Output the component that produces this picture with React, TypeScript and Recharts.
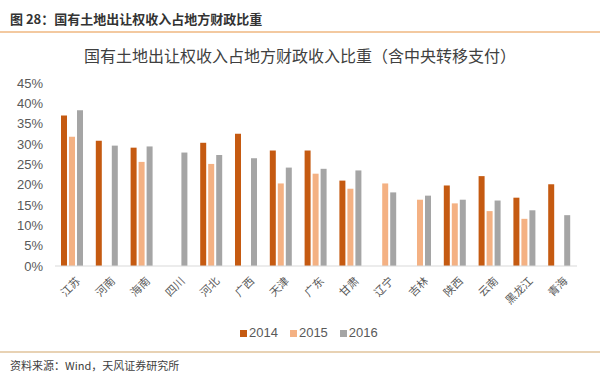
import React from "react";
import { Bar, BarChart, XAxis, YAxis } from "recharts";

// provinces, in chart order
const PROVINCES = [
  "江苏", "河南", "海南", "四川", "河北", "广西", "天津", "广东",
  "甘肃", "辽宁", "吉林", "陕西", "云南", "黑龙江", "青海",
];

// share of land-transfer income in local fiscal revenue, %
const Y2014 = [37.0, 30.8, 29.1, null, 30.3, 32.5, 28.4, 28.4, 21.0, null, null, 19.8, 22.1, 16.8, 20.1];
const Y2015 = [31.8, null, 25.6, null, 25.1, null, 20.3, 22.7, 19.0, 20.3, 16.3, 15.4, 13.5, 11.6, null];
const Y2016 = [38.3, 29.6, 29.4, 27.9, 27.3, 26.5, 24.2, 23.9, 23.5, 18.1, 17.3, 16.3, 16.1, 13.7, 12.5];

const Y_TICKS = [0, 5, 10, 15, 20, 25, 30, 35, 40, 45];

const SERIES = [
  { key: "y2014", label: "2014", color: "#C55A11" },
  { key: "y2015", label: "2015", color: "#F4B183" },
  { key: "y2016", label: "2016", color: "#A5A5A5" },
];

const data = PROVINCES.map((name, i) => ({
  name,
  y2014: Y2014[i],
  y2015: Y2015[i],
  y2016: Y2016[i],
}));

const CJK = '"Noto Sans CJK SC", "Noto Sans", sans-serif';
const LATIN = '"Liberation Sans", Arial, sans-serif';
const TICK = "#595959";

function ProvinceTick({ x, y, payload }: { x?: number; y?: number; payload?: { value: string } }) {
  return (
    <g transform={`translate(${(x ?? 0) + 3},${(y ?? 0) + 2})`}>
      <text
        transform="rotate(-45)"
        textAnchor="end"
        dy={8}
        fontSize={11}
        fontFamily={CJK}
        fill={TICK}
      >
        {payload?.value}
      </text>
    </g>
  );
}

export default function App() {
  return (
    <div
      style={{
        position: "absolute",
        left: 0,
        top: 0,
        width: 600,
        height: 380,
        background: "#fff",
        overflow: "hidden",
        fontFamily: CJK,
      }}
    >
      {/* report header */}
      <div
        style={{
          position: "absolute",
          left: 10,
          top: 10,
          fontSize: 13,
          fontWeight: 700,
          color: "#333",
          lineHeight: "18px",
        }}
      >
        图 28：国有土地出让权收入占地方财政比重
      </div>
      <div style={{ position: "absolute", left: 0, top: 31, width: 600, height: 1.5, background: "#F3C9A0" }} />

      <div
        style={{
          position: "absolute",
          left: 0,
          top: 44,
          width: 600,
          textAlign: "center",
          fontSize: 16,
          color: "#404040",
          lineHeight: "22px",
        }}
      >
        国有土地出让权收入占地方财政收入比重（含中央转移支付）
      </div>

      <div style={{ position: "absolute", left: 0, top: 0 }}>
        <BarChart
          width={600}
          height={320}
          data={data}
          margin={{ top: 83, right: 23, bottom: 0, left: 0 }}
          barSize={6}
          barGap={2}
        >
          <XAxis
            dataKey="name"
            interval={0}
            height={54}
            tick={<ProvinceTick />}
            tickLine={false}
            axisLine={{ stroke: "#D9D9D9" }}
          />
          <YAxis
            width={55}
            domain={[0, 45]}
            ticks={Y_TICKS}
            interval={0}
            tickFormatter={(v: number) => `${v}%`}
            tick={{ fontSize: 13, fontFamily: LATIN, fill: TICK }}
            tickLine={false}
            axisLine={false}
            tickMargin={6}
          />
          {SERIES.map((s) => (
            <Bar key={s.key} dataKey={s.key} fill={s.color} isAnimationActive={false} />
          ))}
        </BarChart>
      </div>

      {/* legend */}
      <div
        style={{
          position: "absolute",
          left: 240,
          top: 325,
          display: "flex",
          gap: 12,
          fontFamily: LATIN,
          fontSize: 13,
          color: TICK,
          lineHeight: "16px",
        }}
      >
        {SERIES.map((s) => (
          <span key={s.key} style={{ display: "flex", alignItems: "center", gap: 2 }}>
            <span style={{ display: "inline-block", width: 7, height: 7, background: s.color }} />
            {s.label}
          </span>
        ))}
      </div>

      <div style={{ position: "absolute", left: 0, top: 351, width: 600, height: 1.5, background: "#E8D2B4" }} />
      <div
        style={{
          position: "absolute",
          left: 10,
          top: 357,
          fontSize: 11,
          color: "#404040",
          lineHeight: "16px",
        }}
      >
        资料来源：Wind，天风证券研究所
      </div>
    </div>
  );
}
